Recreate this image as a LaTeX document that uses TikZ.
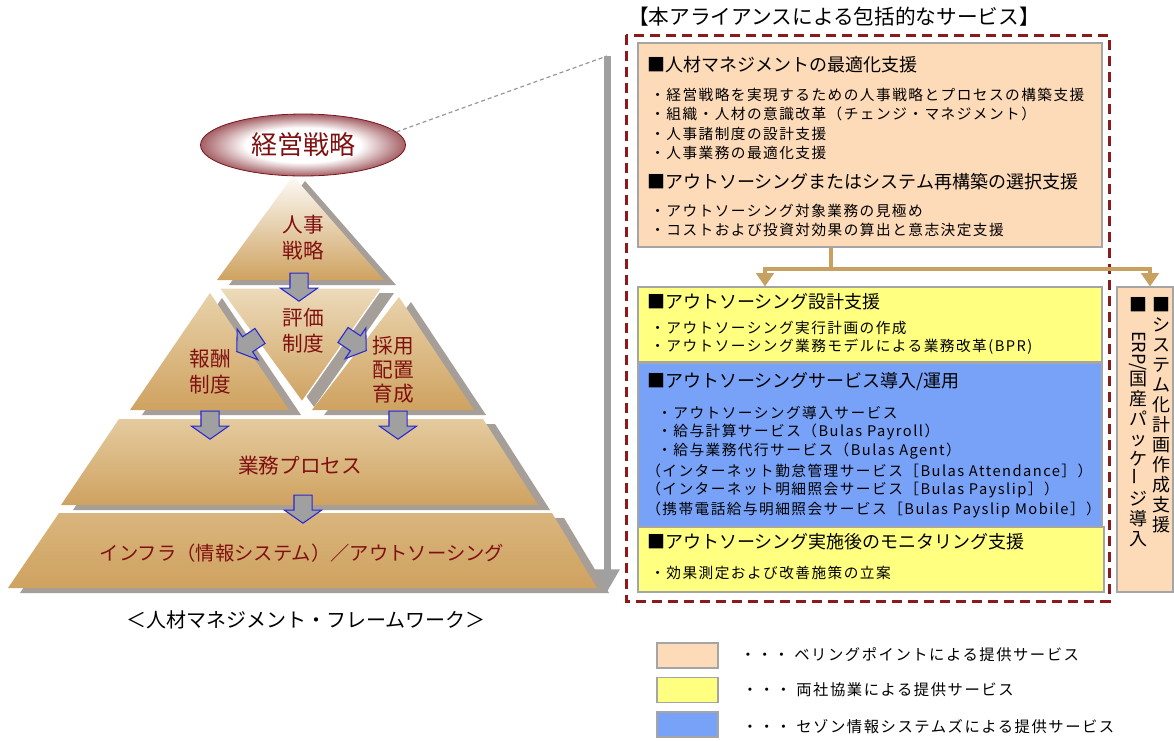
\documentclass[tikz,border=0pt]{standalone}
\usepackage{fontspec}
\setmainfont{Noto Sans CJK JP}
\newfontfamily\itemfont[LetterSpace=10]{Noto Sans CJK JP}
\usetikzlibrary{shapes.geometric,shapes.arrows,arrows.meta,fit}
\def\px{0.75pt}
\definecolor{labelred}{RGB}{128,16,16}
\definecolor{ovalred}{RGB}{122,22,30}
\definecolor{tanlight}{RGB}{232,210,170}
\definecolor{tandark}{RGB}{207,162,96}
\definecolor{shadegray}{RGB}{166,158,152}
\definecolor{arrowblue}{RGB}{40,40,210}
\definecolor{arrowgray}{RGB}{160,160,160}
\definecolor{peachc}{RGB}{253,218,184}
\definecolor{yellowc}{RGB}{255,255,128}
\definecolor{bluec}{RGB}{120,162,248}
\definecolor{framered}{RGB}{140,26,26}
\definecolor{linetan}{RGB}{200,160,96}
\definecolor{boxgray}{RGB}{165,165,165}
\pgfdeclareradialshading{ovalshade}{\pgfpoint{0bp}{0bp}}{color(0bp)=(white); color(14bp)=(white); color(30bp)=(ovalred); color(50bp)=(ovalred)}
\tikzset{
	layer/.style={top color=tanlight, bottom color=tandark},
	shadow it/.style={fill=shadegray, shift={(12,5)}},
	oval/.style={ellipse, shade, shading=ovalshade, draw=ovalred, line width=0.6pt, minimum width=205*\px, minimum height=62*\px, text=labelred, font=\fontsize{19.5pt}{20pt}\selectfont},
	pyrlabel/.style={text=labelred, align=center, inner sep=0pt, font=\fontsize{15.5pt}{19.5pt}\selectfont},
	blockarrow/.style={single arrow, draw=arrowblue, fill=arrowgray, line width=0.8pt, inner xsep=0pt, inner ysep=8.5*\px, minimum height=28*\px, minimum width=36*\px, single arrow head extend=9.5*\px, single arrow tip angle=110},
	svcbox/.style={draw=boxgray, line width=0.8pt, inner sep=0pt},
	heading/.style={anchor=west, inner sep=0pt, font=\fontsize{13.5pt}{15pt}\selectfont},
	item/.style={anchor=west, inner sep=0pt, font=\itemfont\fontsize{11pt}{13pt}\selectfont},
	vtext/.style={anchor=north, inner sep=0pt, align=center, font=\fontsize{13.5pt}{15pt}\selectfont},
	legendbox/.style={draw=boxgray, line width=1pt, minimum width=61*\px, minimum height=25*\px, inner sep=0pt},
	tanline/.style={draw=linetan, line width=4*\px},
	framedash/.style={draw=framered, line width=2.25pt, dash pattern=on 7.5pt off 4.5pt}
}

\begin{document}
\begin{tikzpicture}[x=0.75pt, y=-0.75pt]
	\path[use as bounding box, fill=white] (0,0) rectangle (1174,740);

	% pyramid
	\fill[shadow it] (293,176) -- (384,280) -- (217,280) -- cycle;
	\path[layer, top color=white!90!tanlight] (293,176) -- (384,280) -- (217,280) -- cycle;
	\fill[shadow it] (210,293) -- (289,410) -- (130,410) -- cycle;
	\path[layer] (210,293) -- (289,410) -- (130,410) -- cycle;
	\fill[shadow it] (399,297) -- (474,410) -- (312,410) -- cycle;
	\path[layer] (399,297) -- (474,410) -- (312,410) -- cycle;
	\fill[shadow it] (219,288) -- (382,288) -- (302,402) -- cycle;
	\path[layer, top color=white!20!tanlight, draw=white, line width=1pt] (219,288) -- (382,288) -- (302,402) -- cycle;
	\fill[shadow it] (119,419) -- (483,419) -- (538,505) -- (61,505) -- cycle;
	\path[layer, top color=tanlight!85!tandark] (119,419) -- (483,419) -- (538,505) -- (61,505) -- cycle;
	\fill[shadow it] (59,513) -- (552,513) -- (597,588) -- (8,588) -- cycle;
	\path[layer, top color=tanlight!40!tandark] (59,513) -- (552,513) -- (597,588) -- (8,588) -- cycle;

	\node[oval] (oval) at (303,145) {経営戦略};
	\node[pyrlabel] (hrstrat) at (303,238) {人事\\戦略};
	\node[pyrlabel] (evalsys) at (303,331) {評価\\制度};
	\node[pyrlabel] (paysys) at (210,372) {報酬\\制度};
	\node[pyrlabel, font=\fontsize{15.5pt}{18pt}\selectfont] (hiring) at (393,370) {採用\\配置\\育成};
	\node[pyrlabel] (process) at (300,466) {業務プロセス};
	\node[pyrlabel, font=\fontsize{14.5pt}{16pt}\selectfont] (infra) at (302,553) {インフラ（情報システム）／アウトソーシング};
	\node[font=\fontsize{15pt}{16pt}\selectfont] (caption) at (306,620) {＜人材マネジメント・フレームワーク＞};

	\node[blockarrow, rotate=-90] (flowa) at (299,284) {};
	\node[blockarrow, rotate=-146] (flowb) at (251,342) {};
	\node[blockarrow, rotate=-34] (flowc) at (352,341) {};
	\node[blockarrow, rotate=-90] (flowd) at (210,422) {};
	\node[blockarrow, rotate=-90] (flowe) at (398,422) {};
	\node[blockarrow, rotate=-90] (flowf) at (303,506) {};

	\coordinate (gtop) at (607,56);
	\coordinate (gbot) at (607,592);
	\draw[draw=gray!80, line width=1.2*\px, dash pattern=on 3pt off 2.2pt] (oval.8) -- (gtop);
	\draw[draw=arrowgray, line width=7*\px, -{Triangle[width=18pt,length=17pt]}] (gtop) -- (gbot);

	% services
	\node[anchor=west, inner sep=0pt, font=\fontsize{15.5pt}{16pt}\selectfont] (title) at (628,17) {【本アライアンスによる包括的なサービス】};
	\node[svcbox, fill=peachc, fit={(638,43) (1102,247)}] (bpeach) {};
	\node[svcbox, fill=yellowc, fit={(638,287) (1102,362)}] (bdesign) {};
	\node[svcbox, fill=bluec, fit={(638,363) (1102,527)}] (bintro) {};
	\node[svcbox, fill=yellowc, fit={(638,527) (1104,592)}] (bmonitor) {};
	\node[svcbox, fill=peachc, fit={(1117,287) (1173,592)}] (bsys) {};
	\draw[framedash] (626,35) rectangle (1109,601);

	\node[heading] (h1) at (647,65) {■人材マネジメントの最適化支援};
	\foreach \txt [count=\i] in {・経営戦略を実現するための人事戦略とプロセスの構築支援, ・組織・人材の意識改革（チェンジ・マネジメント）, ・人事諸制度の設計支援, ・人事業務の最適化支援}
		\node[item] (p\i) at (650,{95+19.3*(\i-1)}) {\txt};
	\node[heading] (h2) at (647,182) {■アウトソーシングまたはシステム再構築の選択支援};
	\node[item] (q1) at (650,211) {・アウトソーシング対象業務の見極め};
	\node[item] (q2) at (650,230) {・コストおよび投資対効果の算出と意志決定支援};

	\node[heading] (h3) at (647,302) {■アウトソーシング設計支援};
	\node[item] (d1) at (650,328) {・アウトソーシング実行計画の作成};
	\node[item] (d2) at (650,347) {・アウトソーシング業務モデルによる業務改革(BPR)};

	\node[heading] (h4) at (647,382) {■アウトソーシングサービス導入/運用};
	\node[item] (s1) at (657,413) {・アウトソーシング導入サービス};
	\node[item] (s2) at (657,432) {・給与計算サービス（Bulas Payroll）};
	\node[item] (s3) at (657,451) {・給与業務代行サービス（Bulas Agent）};
	\node[item] (s4) at (646,471) {（インターネット勤怠管理サービス［Bulas Attendance］）};
	\node[item] (s5) at (646,490) {（インターネット明細照会サービス［Bulas Payslip］）};
	\node[item] (s6) at (646,510) {（携帯電話給与明細照会サービス［Bulas Payslip Mobile］）};

	\node[heading] (h5) at (647,542) {■アウトソーシング実施後のモニタリング支援};
	\node[item] (m1) at (650,573) {・効果測定および改善施策の立案};

	\node[vtext] (vsys) at (1161,297) {■\\シ\\ス\\テ\\ム\\化\\計\\画\\作\\成\\支\\援};
	\node[vtext] (verp) at (1138,297) {■\\\rotatebox{-90}{ERP/}\\国\\産\\パ\\ッ\\ケ\\\rotatebox{90}{ー}\\ジ\\導\\入};

	\coordinate (jn) at (831,269);
	\coordinate (jl) at (765,269);
	\coordinate (jr) at (1150,269);
	\draw[tanline] (jn |- bpeach.south) -- (jn);
	\draw[tanline, -{Triangle[width=13pt,length=10pt]}] (jn) -- (jl) -- (jl |- bdesign.north);
	\draw[tanline, -{Triangle[width=13pt,length=10pt]}] (jn) -- (jr) -- (jr |- bsys.north);

	% legend
	\node[legendbox, fill=peachc] (lgpeach) at (687.5,655.5) {};
	\node[legendbox, fill=yellowc] (lgyellow) at (687.5,690) {};
	\node[legendbox, fill=bluec] (lgblue) at (687.5,724.5) {};
	\node[item, font=\itemfont\fontsize{11.5pt}{13pt}\selectfont] (lt1) at (740,655) {・・・ ベリングポイントによる提供サービス};
	\node[item, font=\itemfont\fontsize{11.5pt}{13pt}\selectfont] (lt2) at (742,690) {・・・ 両社協業による提供サービス};
	\node[item, font=\itemfont\fontsize{11.5pt}{13pt}\selectfont] (lt3) at (742,727) {・・・ セゾン情報システムズによる提供サービス};
\end{tikzpicture}
\end{document}
